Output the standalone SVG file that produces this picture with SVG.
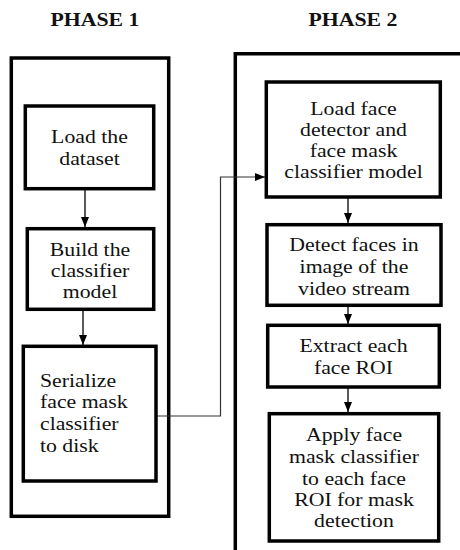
<svg xmlns="http://www.w3.org/2000/svg" width="460" height="550" viewBox="0 0 460 550">
  <defs>
    <marker id="arrow" markerUnits="userSpaceOnUse" markerWidth="10" markerHeight="8" refX="10" refY="4" orient="auto">
      <path d="M0,0 L10,4 L0,8 Z" fill="#000"/>
    </marker>
    <style>
      .frame { fill: none; stroke: #000; stroke-width: 3.5; }
      .box { fill: #fff; stroke: #000; stroke-width: 3.5; }
      .flow { fill: none; stroke: #000; stroke-width: 1.3; }
      .link { fill: none; stroke: #333; stroke-width: 1.2; }
      .t { font-family: "Liberation Serif", "Times New Roman", serif; font-size: 18px; fill: #111; }
      .c { text-anchor: middle; }
      .title { font-weight: bold; }
    </style>
  </defs>

  <!-- phase titles -->
  <g id="title-phase1" transform="translate(95 0) scale(1.21 1)">
    <text class="t c title" x="0" y="26">PHASE 1</text>
  </g>
  <g id="title-phase2" transform="translate(353 0) scale(1.21 1)">
    <text class="t c title" x="0" y="26">PHASE 2</text>
  </g>

  <!-- phase frames -->
  <g id="frame-phase1">
    <rect class="frame" x="11.3" y="58" width="157.4" height="458.3"/>
  </g>
  <g id="frame-phase2">
    <polyline class="frame" points="235.3,550 235.3,53.7 462,53.7"/>
  </g>

  <!-- connectors -->
  <g id="connectors">
    <line class="flow" x1="85" y1="189" x2="85" y2="227" marker-end="url(#arrow)"/>
    <line class="flow" x1="83" y1="309" x2="83" y2="345" marker-end="url(#arrow)"/>
    <polyline class="link" points="157,416 220.5,416 220.5,177 265,177" marker-end="url(#arrow)"/>
    <line class="flow" x1="348" y1="197" x2="348" y2="223" marker-end="url(#arrow)"/>
    <line class="flow" x1="348" y1="305" x2="348" y2="324" marker-end="url(#arrow)"/>
    <line class="flow" x1="348" y1="387" x2="348" y2="412" marker-end="url(#arrow)"/>
  </g>

  <!-- phase 1 steps -->
  <g id="load-dataset">
    <rect class="box" x="25.3" y="106" width="128.4" height="82.7"/>
    <g transform="translate(89.5 0) scale(1.21 1)">
      <text class="t c" x="0" y="143">Load the</text>
      <text class="t c" x="0" y="165">dataset</text>
    </g>
  </g>
  <g id="build-classifier">
    <rect class="box" x="27.3" y="228.7" width="126.4" height="80.6"/>
    <g transform="translate(90 0) scale(1.21 1)">
      <text class="t c" x="0" y="256">Build the</text>
      <text class="t c" x="0" y="277">classifier</text>
      <text class="t c" x="0" y="298">model</text>
    </g>
  </g>
  <g id="serialize-classifier">
    <rect class="box" x="23.3" y="346.3" width="132.7" height="134.7"/>
    <g transform="translate(40 0) scale(1.21 1)">
      <text class="t" x="0" y="387">Serialize</text>
      <text class="t" x="0" y="408">face mask</text>
      <text class="t" x="0" y="430">classifier</text>
      <text class="t" x="0" y="452">to disk</text>
    </g>
  </g>

  <!-- phase 2 steps -->
  <g id="load-models">
    <rect class="box" x="266.3" y="82" width="174" height="115"/>
    <g transform="translate(353.5 0) scale(1.21 1)">
      <text class="t c" x="0" y="115">Load face</text>
      <text class="t c" x="0" y="136">detector and</text>
      <text class="t c" x="0" y="157">face mask</text>
      <text class="t c" x="0" y="178">classifier model</text>
    </g>
  </g>
  <g id="detect-faces">
    <rect class="box" x="267" y="224.7" width="174" height="80.6"/>
    <g transform="translate(354 0) scale(1.21 1)">
      <text class="t c" x="0" y="251">Detect faces in</text>
      <text class="t c" x="0" y="273">image of the</text>
      <text class="t c" x="0" y="295">video stream</text>
    </g>
  </g>
  <g id="extract-roi">
    <rect class="box" x="267.7" y="325.3" width="171.6" height="61.7"/>
    <g transform="translate(353.5 0) scale(1.21 1)">
      <text class="t c" x="0" y="352">Extract each</text>
      <text class="t c" x="0" y="374">face ROI</text>
    </g>
  </g>
  <g id="apply-classifier">
    <rect class="box" x="269.3" y="413.7" width="169.4" height="127.3"/>
    <g transform="translate(354 0) scale(1.21 1)">
      <text class="t c" x="0" y="441">Apply face</text>
      <text class="t c" x="0" y="463">mask classifier</text>
      <text class="t c" x="0" y="485">to each face</text>
      <text class="t c" x="0" y="506">ROI for mask</text>
      <text class="t c" x="0" y="527">detection</text>
    </g>
  </g>
</svg>
